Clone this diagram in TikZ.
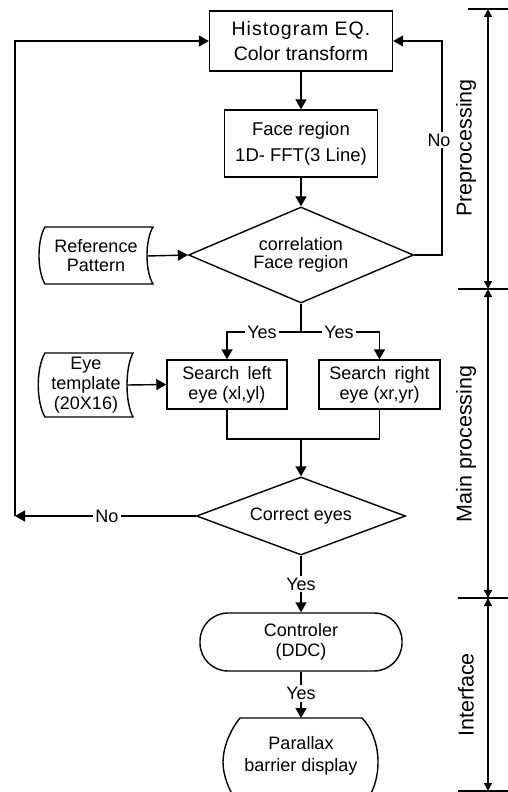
\documentclass[tikz,border=0pt]{standalone}
\usepackage{fontspec}
\setmainfont{Liberation Sans}
\usetikzlibrary{arrows.meta,shapes.geometric}
\begin{document}
\begin{tikzpicture}[x=1pt,y=-1pt, line width=1.4pt,
  txt/.style={font=\fontsize{18}{20}\selectfont, align=center, inner sep=0pt},
  proc/.style={draw, txt},
  arr/.style={-{Triangle[length=10pt,width=11pt]}},
  lbl/.style={txt, fill=white, inner sep=2pt},
  dim/.style={{Triangle[length=8pt,width=8pt]}-{Triangle[length=8pt,width=8pt]}},
  side/.style={font=\fontsize{21.5}{24}\selectfont, rotate=90, inner sep=0pt}
]
\useasboundingbox (0,0) rectangle (508,792);
\clip (0,0) rectangle (508,792);

% process boxes
\node[proc, minimum width=183pt, minimum height=60pt, font=\fontsize{19.5}{25}\selectfont] (hist) at (301,41) {{\addfontfeature{LetterSpace=5}Histogram EQ.}\\Color transform};
\node[proc, minimum width=153pt, minimum height=67pt, font=\fontsize{18.5}{26}\selectfont] (face) at (301,143.5) {Face region\\1D- FFT(3 Line)};
\node[draw, diamond, txt, aspect=2.34, minimum width=225pt, minimum height=96pt, font=\fontsize{18}{18.5}\selectfont] (corr) at (301,255) {correlation\\Face region};
\node[proc, minimum width=120pt, minimum height=49pt] (sl) at (227,384.5) {Search\hspace{0.45em}left\\eye (xl,yl)};
\node[proc, minimum width=121pt, minimum height=49pt] (sr) at (379.5,384.5) {Search\hspace{0.45em}right\\eye (xr,yr)};
\node[draw, diamond, txt, aspect=2.68, minimum width=209pt, minimum height=78pt] (ce) at (301,516) {Correct eyes};
\node[proc, rounded corners=28pt, minimum width=202pt, minimum height=58pt] (ctrl) at (301,642) {Controler\\(DDC)};

% stored data shapes
\draw (45,227) -- (153,227) .. controls (145,240) and (145,271) .. (153,284) -- (45,284) .. controls (37,271) and (37,240) .. (45,227) -- cycle;
\node[txt, font=\fontsize{18}{19}\selectfont] (refp) at (96,256) {Reference\\Pattern};
\coordinate (refR) at (147,256);
\draw (45,353) -- (133,353) .. controls (125,368) and (125,402) .. (133,417) -- (45,417) .. controls (36,402) and (36,368) .. (45,353) -- cycle;
\node[txt] (eyet) at (86,385) {Eye\\template\\(20X16)};
\coordinate (eyeR) at (127,385);

% display shape
\draw (240,718) -- (362,718) .. controls (372,728) and (378,745) .. (378,762) .. controls (378,780) and (372,796) .. (362,806) -- (240,806) .. controls (230,794) and (223,776) .. (223,762) .. controls (223,748) and (230,730) .. (240,718) -- cycle;
\node[txt, font=\fontsize{18}{22}\selectfont] (disp) at (301,756) {Parallax\\barrier display};
\coordinate (dispN) at (301,718);

% connectors
\draw[arr] (hist) -- (face);
\draw[arr] (face) -- (corr.north);
\draw[arr] (refR) -- (corr.west);
\coordinate (nr) at (442,255);
\draw[arr] (corr.east) -- (nr) |- (hist.east);
\node[lbl] (noR) at (439,140) {No};

\coordinate (br) at (301,332);
\draw (corr.south) -- (br);
\draw[arr] (br) -| (sl.north);
\draw[arr] (br) -| (sr.north);
\node[lbl] (yesL) at (262,332) {Yes};
\node[lbl] (yesR) at (339,332) {Yes};
\draw[arr] (eyeR) -- (sl.west);

\coordinate (mg) at (301,439);
\draw (sl.south) |- (mg);
\draw (sr.south) |- (mg);
\draw[arr] (mg) -- (ce.north);

\coordinate (lc) at (15,516);
\draw[arr] (ce.west) -- (lc);
\node[lbl] (noL) at (107,516) {No};
\draw[arr] (lc) |- (hist.west);

\draw[arr] (ce.south) -- node[lbl] (yes1) {Yes} (ctrl.north);
\draw[arr] (ctrl.south) -- node[lbl, pos=0.47] (yes2) {Yes} (dispN);

% side brackets
\coordinate (t0) at (488,9);
\coordinate (t1) at (488,289);
\coordinate (t2) at (488,598);
\coordinate (t3) at (488,791);
\draw (468,9) -- (508,9);
\draw (458,289) -- (508,289);
\draw (458,598) -- (508,598);
\draw (458,791) -- (508,791);
\draw[dim] (t0) -- (t1);
\draw[dim] (t1) -- (t2);
\draw[dim] (t2) -- (t3);
\node[side] (pre) at (466,148) {Preprocessing};
\node[side] (mainp) at (466,444) {Main processing};
\node[side] (intf) at (466,695) {Interface};
\end{tikzpicture}
\end{document}
